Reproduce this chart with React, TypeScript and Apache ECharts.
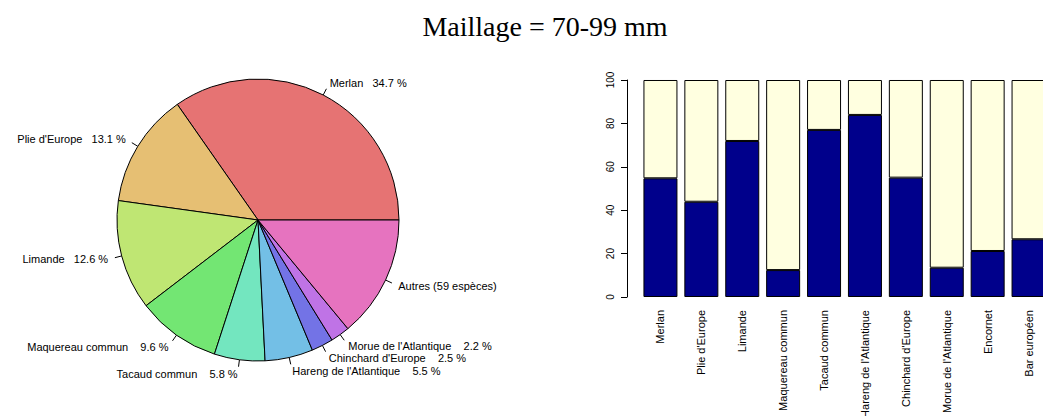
import React, { useEffect, useRef } from "react";
import * as echarts from "echarts";

const title = "Maillage = 70-99 mm";

const pieNames = [
  "Merlan",
  "Plie d'Europe",
  "Limande",
  "Maquereau commun",
  "Tacaud commun",
  "Hareng de l'Atlantique",
  "Chinchard d'Europe",
  "Morue de l'Atlantique",
  "Autres (59 espèces)",
];
const piePct = [34.7, 13.1, 12.6, 9.6, 5.8, 5.5, 2.5, 2.2, 14.0];
const pieShowPct = [true, true, true, true, true, true, true, true, false];
const pieColors = [
  "#E67373",
  "#E6BF73",
  "#BFE673",
  "#73E673",
  "#73E6BF",
  "#73BFE6",
  "#7373E6",
  "#BF73E6",
  "#E673BF",
];

const barNames = [
  "Merlan",
  "Plie d'Europe",
  "Limande",
  "Maquereau commun",
  "Tacaud commun",
  "Hareng de l'Atlantique",
  "Chinchard d'Europe",
  "Morue de l'Atlantique",
  "Encornet",
  "Bar européen",
];
const barLower = [54.7, 43.9, 71.9, 12.4, 77.0, 83.9, 55.0, 13.5, 21.2, 26.6];
const barUpper = [45.3, 56.1, 28.1, 87.6, 23.0, 16.1, 45.0, 86.5, 78.8, 73.4];
const yTicks = [0, 20, 40, 60, 80, 100];

export default function App() {
  const ref = useRef<HTMLDivElement>(null);
  useEffect(() => {
    if (!ref.current) return;
    const chart = echarts.init(ref.current, null, { renderer: "svg" });
    const sp = "\u00a0";
    chart.setOption({
      animation: false,
      backgroundColor: "#ffffff",
      graphic: [
        {
          type: "text",
          x: 545,
          y: 26,
          style: {
            text: title,
            font: "28px 'Liberation Serif'",
            fill: "#000",
            textAlign: "center",
            textVerticalAlign: "middle",
          },
        },
      ],
      grid: {
        left: 640,
        top: 80,
        width: 409,
        height: 217,
        outerBoundsMode: "none",
        containLabel: false,
      },
      xAxis: {
        type: "category",
        data: barNames,
        axisLine: { show: false },
        axisTick: { show: false },
        axisLabel: {
          rotate: 90,
          interval: 0,
          margin: 13,
          fontSize: 11,
          color: "#000",
          fontFamily: "'Liberation Sans', Arial, sans-serif",
        },
      },
      yAxis: {
        type: "value",
        min: yTicks[0],
        max: yTicks[yTicks.length - 1],
        interval: 20,
        offset: 13,
        axisLine: { show: true, lineStyle: { color: "#000", width: 1 } },
        axisTick: { show: true, length: 6, lineStyle: { color: "#000", width: 1 } },
        splitLine: { show: false },
        axisLabel: {
          rotate: 90,
          margin: 12,
          fontSize: 10,
          color: "#000",
          fontFamily: "'Liberation Sans', Arial, sans-serif",
        },
      },
      series: [
        {
          type: "pie",
          center: [258, 220],
          radius: 141,
          startAngle: 0,
          clockwise: false,
          avoidLabelOverlap: false,
          minShowLabelAngle: 0,
          labelLayout: { hideOverlap: false },
          itemStyle: { borderColor: "#000", borderWidth: 1 },
          label: {
            show: true,
            position: "outside",
            distanceToLabelLine: 0,
            fontSize: 11,
            color: "#000",
            fontFamily: "'Liberation Sans', Arial, sans-serif",
            formatter: (p: any) => {
              const i = p.dataIndex;
              if (!pieShowPct[i]) return pieNames[i];
              const v = piePct[i].toFixed(1);
              const gap = piePct[i] >= 10 ? sp.repeat(3) : sp.repeat(4);
              return pieNames[i] + gap + v + " %";
            },
          },
          labelLine: {
            show: true,
            length: 14,
            length2: 0,
            smooth: false,
            lineStyle: { color: "#000", width: 1, type: [7, 40] },
          },
          emphasis: { disabled: true },
          data: pieNames.map((n, i) => ({
            name: n,
            value: piePct[i],
            itemStyle: { color: pieColors[i] },
          })),
        },
        {
          type: "bar",
          stack: "s",
          barWidth: 34,
          itemStyle: { color: "#00008B", borderColor: "#000", borderWidth: 1 },
          data: barLower,
        },
        {
          type: "bar",
          stack: "s",
          barWidth: 34,
          itemStyle: { color: "#FFFFE0", borderColor: "#000", borderWidth: 1 },
          data: barUpper,
        },
      ],
    });
    return () => chart.dispose();
  }, []);
  return (
    <div
      ref={ref}
      style={{ position: "fixed", left: 0, top: 0, width: 1043, height: 416 }}
    />
  );
}
